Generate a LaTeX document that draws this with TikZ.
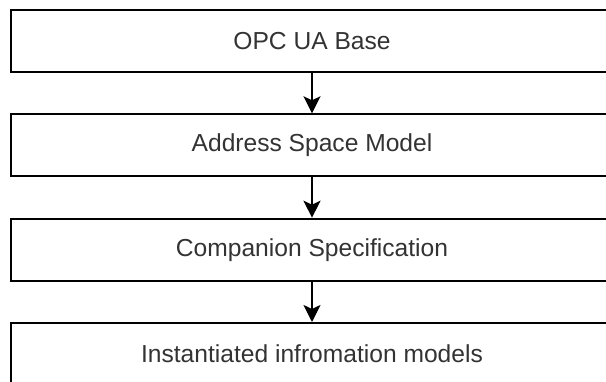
\documentclass[tikz,border=0pt]{standalone}
\usepackage{fontspec}
\setmainfont{Liberation Sans}
\usetikzlibrary{arrows.meta}
\definecolor{labeltext}{HTML}{333333}
\tikzset{
  layerbox/.style={draw=black, line width=2pt, fill=white, minimum width=602pt,
    minimum height=62pt, anchor=north west, inner sep=0pt,
    font=\fontsize{24.6}{28}\selectfont, text=labeltext},
  flow/.style={draw=black, line width=2pt,
    -{Stealth[length=17pt, width=17pt, inset=4pt]}, shorten >=0pt}
}
\begin{document}
\begin{tikzpicture}[x=1pt, y=-1pt]
  \useasboundingbox (0,0) rectangle (606,382);
  \node[layerbox] (base)     at (10,9)     {OPC UA Base};
  \node[layerbox] (asm)      at (10,113.3) {Address Space Model};
  \node[layerbox] (comp)     at (10,217.7) {Companion Specification};
  \node[layerbox] (inst)     at (10,322)   {Instantiated infromation models};
  \draw[flow] (base.south) -- (asm.north);
  \draw[flow] (asm.south) -- (comp.north);
  \draw[flow] (comp.south) -- (inst.north);
\end{tikzpicture}
\end{document}
